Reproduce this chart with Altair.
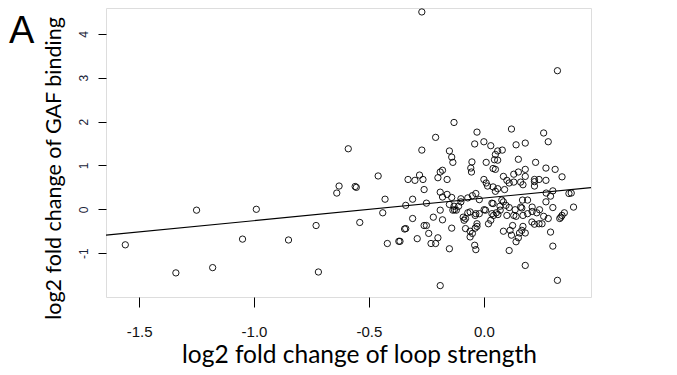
import altair as alt
import pandas as pd

# log2 fold change of loop strength (x) and GAF binding (y)
loop_lfc = [
    -1.56, -1.34, -1.25, -1.18, -1.05, -0.99, -0.85, -0.73, -0.72, -0.64,
    -0.63, -0.59, -0.56, -0.555, -0.54, -0.46, -0.44, -0.43, -0.42, -0.37,
    -0.365, -0.34, -0.345, -0.34, -0.33, -0.31, -0.31, -0.30, -0.29, -0.28,
    -0.27, -0.27, -0.265, -0.26, -0.26, -0.25, -0.25, -0.24, -0.23, -0.22,
    -0.21, -0.21, -0.20, -0.20, -0.19, -0.19, -0.19, -0.19, -0.18, -0.18,
    -0.18, -0.16, -0.16, -0.15, -0.15, -0.15, -0.14, -0.14, -0.14, -0.135,
    -0.135, -0.13, -0.128, -0.13, -0.12, -0.11, -0.10, -0.10, -0.09, -0.08,
    -0.086, -0.08, -0.07, -0.07, -0.06, -0.06, -0.05, -0.06, -0.057, -0.054,
    -0.052, -0.05, -0.035, -0.04, -0.04, -0.035, -0.035, -0.038, -0.038, -0.03,
    -0.03, -0.03, -0.02, -0.02, 0.0, 0.001, 0.0, 0.01, 0.016, 0.007,
    0.01, 0.02, 0.03, 0.03, 0.035, 0.042, 0.035, 0.04, 0.04, 0.05,
    0.04, 0.046, 0.05, 0.06, 0.05, 0.054, 0.061, 0.06, 0.06, 0.07,
    0.071, 0.078, 0.08, 0.085, 0.085, 0.085, 0.09, 0.096, 0.10, 0.10,
    0.11, 0.11, 0.11, 0.114, 0.12, 0.12, 0.125, 0.13, 0.13, 0.14,
    0.13, 0.136, 0.14, 0.14, 0.15, 0.155, 0.15, 0.15, 0.16, 0.16,
    0.165, 0.165, 0.168, 0.17, 0.17, 0.17, 0.18, 0.18, 0.18, 0.18,
    0.18, 0.19, 0.19, 0.21, 0.21, 0.209, 0.22, 0.22, 0.22, 0.22,
    0.24, 0.225, 0.23, 0.24, 0.242, 0.253, 0.26, 0.26, 0.27, 0.27,
    0.27, 0.271, 0.28, 0.28, 0.29, 0.29, 0.30, 0.30, 0.30, 0.31,
    0.32, 0.32, 0.33, 0.34, 0.34, 0.35, 0.37, 0.38, 0.39, 0.335,
]
gaf_lfc = [
    -0.81, -1.45, -0.02, -1.33, -0.68, 0.0, -0.70, -0.37, -1.43, 0.37,
    0.53, 1.38, 0.52, 0.50, -0.30, 0.76, -0.08, 0.23, -0.78, -0.73,
    -0.73, -0.44, -0.45, 0.09, 0.68, 0.23, -0.21, 0.66, -0.67, 0.78,
    4.50, 1.35, 0.68, -0.37, 0.45, 0.14, -0.37, -0.55, -0.78, -0.18,
    -0.78, 1.64, 0.72, -0.65, 0.39, -0.02, -1.74, 0.85, 0.89, 0.28,
    -0.24, 0.68, 0.34, 0.11, 1.33, -0.90, 0.27, 1.19, -0.43, 1.07,
    -0.02, 0.07, -0.01, 1.98, -0.02, 0.07, 0.17, 0.24, -0.18, -0.21,
    -0.25, -0.44, 0.26, -0.08, -0.06, -0.50, -0.55, -0.63, 0.94, 0.85,
    1.08, 0.31, 0.36, 1.49, -0.82, -0.92, -0.10, -0.14, -0.43, -0.33,
    -0.39, 1.76, 0.22, -0.10, 1.54, -0.01, 0.68, 0.60, 0.53, -0.02,
    1.07, -0.33, 1.45, -0.25, -0.10, -0.14, 0.14, 0.51, 0.93, 0.91,
    0.13, 1.13, 0.41, 0.47, 1.25, -0.08, -0.12, 1.12, 1.33, 0.07,
    -0.02, 0.21, 1.35, 0.75, 0.17, -0.50, 0.45, 0.09, 0.66, -0.14,
    0.04, -0.94, 0.60, -0.48, -0.59, 1.83, -0.37, 0.62, -0.14, -0.16,
    0.80, -0.01, 1.47, -0.74, -0.65, -0.54, 1.14, 0.85, 0.62, 0.05,
    0.03, -0.48, 0.21, 0.56, -0.39, -0.14, 0.75, -0.54, 0.91, 1.51,
    -1.28, 0.21, -0.10, 0.05, -0.05, -0.29, 0.68, 0.63, 0.53, -0.34,
    -0.33, 1.07, -0.08, 0.68, -0.01, -0.33, -0.16, 1.74, 0.94, 0.66,
    0.17, 0.37, -0.21, 1.54, 0.30, -0.52, 0.04, 0.42, -0.84, 0.91,
    -1.62, 3.16, -0.21, 0.74, -0.14, -0.08, 0.36, 0.37, 0.05, -0.18,
]

# fitted line, endpoints read at the plot edges
fit_x = [-1.644, 0.466]
fit_y = [-0.59, 0.495]

x_domain = [-1.644, 0.466]
y_domain = [-2.0, 4.59]
x_ticks = [-1.5, -1.0, -0.5, 0.0]
y_ticks = [-1, 0, 1, 2, 3, 4]
panel_label = ["A"]

points_df = pd.DataFrame({"x": loop_lfc, "y": gaf_lfc})
line_df = pd.DataFrame({"x": fit_x, "y": fit_y})
label_df = pd.DataFrame({"label": panel_label})

x_scale = alt.Scale(domain=x_domain, nice=False, zero=False)
y_scale = alt.Scale(domain=y_domain, nice=False, zero=False)

hyphen_expr = "replace(datum.label, '\u2212', '-')"

x_axis = alt.Axis(
    values=x_ticks, format=".1f", labelExpr=hyphen_expr, grid=False, domain=False,
    tickColor="black", tickSize=10, tickWidth=1,
    labelFont="Liberation Sans", labelFontSize=15, labelColor="#111",
    labelBaseline="middle", labelPadding=24,
    title="log2 fold change of loop strength",
    titleFont="Lato", titleFontSize=24.5, titleFontWeight="normal", titleColor="black",
    titleX=253, titleY=65, titleAlign="center", titleBaseline="alphabetic",
)
y_axis = alt.Axis(
    values=y_ticks, format="d", labelExpr=hyphen_expr, grid=False, domain=False,
    tickColor="black", tickSize=8, tickWidth=1,
    labelFont="Liberation Sans", labelFontSize=12, labelColor="#1a2438",
    labelAngle=-90, labelAlign="center", labelBaseline="middle", labelPadding=15,
    title="log2 fold change of GAF binding",
    titleFont="Lato", titleFontSize=21.5, titleFontWeight="normal", titleColor="black",
    titleX=-52, titleY=160, titleAlign="center", titleBaseline="middle", titleAngle=-90,
)

points = alt.Chart(points_df).mark_point(
    shape="circle", filled=False, size=40, strokeWidth=0.9, color="black", opacity=1
).encode(
    x=alt.X("x:Q", scale=x_scale, axis=x_axis),
    y=alt.Y("y:Q", scale=y_scale, axis=y_axis),
)

line = alt.Chart(line_df).mark_line(color="black", strokeWidth=1.1, clip=True).encode(
    x=alt.X("x:Q", scale=x_scale),
    y=alt.Y("y:Q", scale=y_scale),
)

label = alt.Chart(label_df).mark_text(
    font="Liberation Sans", fontSize=38, align="left", baseline="alphabetic", color="black"
).encode(
    x=alt.value(-97), y=alt.value(35), text="label:N"
)

chart = alt.layer(points, line, label).properties(
    width=485, height=289,
    autosize=alt.AutoSizeParams(type="none"),
    padding={"left": 98, "top": 0, "right": 78, "bottom": 70},
).configure_view(stroke="black", strokeWidth=1).configure(background="white")

chart.save("out.html", embed_options={"renderer": "svg", "actions": False})
